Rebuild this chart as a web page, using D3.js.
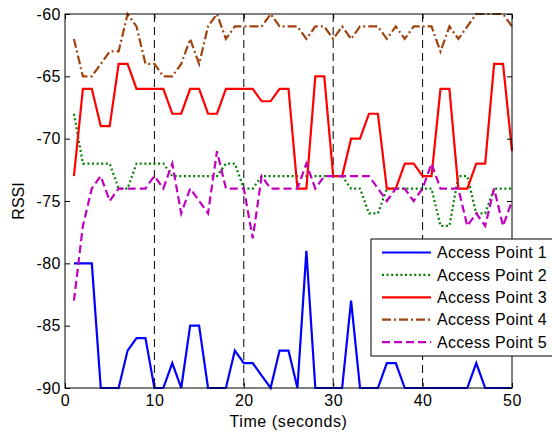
<!DOCTYPE html>
<html>
<head>
<meta charset="utf-8">
<script src="https://cdn.jsdelivr.net/npm/d3@7"></script>
<style>
  body { margin: 0; background: #fff; }
  #chart { width: 552px; height: 432px; }
  text { font-family: "Liberation Sans", Arial, sans-serif; fill: #000; }
</style>
</head>
<body>
<div id="chart"></div>
<script>
// Data
const times = d3.range(1, 51);
const ap1 = [-80,-80,-80,-90,-90,-90,-87,-86,-86,-90,-90,-88,-90,-85,-85,-90,-90,-90,-87,-88,-88,-89,-90,-87,-87,-90,-79,-90,-90,-90,-90,-83,-90,-90,-90,-88,-88,-90,-90,-90,-90,-90,-90,-90,-90,-88,-90,-90,-90,-90];
const ap2 = [-68,-72,-72,-72,-72,-74,-74,-72,-72,-72,-72,-73,-73,-73,-73,-73,-73,-72,-72,-74,-74,-73,-73,-73,-73,-73,-73,-73,-73,-73,-73,-74,-74,-76,-76,-74,-74,-74,-74,-74,-74,-77,-77,-73,-73,-76,-76,-74,-74,-74];
const ap3 = [-73,-66,-66,-69,-69,-64,-64,-66,-66,-66,-66,-68,-68,-66,-66,-68,-68,-66,-66,-66,-66,-67,-67,-66,-66,-74,-74,-65,-65,-73,-73,-70,-70,-68,-68,-74,-74,-72,-72,-73,-73,-66,-66,-74,-74,-72,-72,-64,-64,-71];
const ap4 = [-62,-65,-65,-64,-63,-63,-60,-61,-64,-64,-65,-65,-64,-62,-64,-61,-60,-62,-61,-61,-61,-61,-60,-61,-61,-61,-62,-61,-61,-62,-61,-62,-61,-61,-61,-62,-61,-62,-61,-61,-61,-63,-61,-62,-61,-60,-60,-60,-60,-61];
const ap5 = [-83,-77,-74,-73,-75,-74,-74,-74,-74,-73,-74,-72,-76,-74,-75,-76,-71,-74,-74,-74,-78,-73,-74,-74,-74,-74,-72,-74,-73,-73,-73,-73,-73,-73,-74,-75,-74,-74,-75,-74,-72,-74,-74,-74,-77,-76,-77,-74,-77,-75];
const seriesNames = ['Access Point 1', 'Access Point 2', 'Access Point 3', 'Access Point 4', 'Access Point 5'];
const markerTimes = [10, 20, 30, 40];
const xTicks = [0, 10, 20, 30, 40, 50];
const yTicks = [-90, -85, -80, -75, -70, -65, -60];

// Line styles per series
const styles = [
  { color: '#0000ff', dash: null },
  { color: '#008000', dash: '2,2.6' },
  { color: '#ff0000', dash: null },
  { color: '#a0440f', dash: '9,3,2,3' },
  { color: '#bf00bf', dash: '8,4' }
];

function renderChart() {
  const container = d3.select('#chart');
  container.selectAll('*').remove();

  const margin = { top: 14, right: 40, bottom: 44, left: 65 };
  const width = 552 - margin.left - margin.right;   // 447
  const height = 432 - margin.top - margin.bottom;  // 374

  const svg = container.append('svg')
    .attr('width', 552)
    .attr('height', 432);

  const g = svg.append('g')
    .attr('transform', `translate(${margin.left},${margin.top})`);

  const x = d3.scaleLinear().domain([0, 50]).range([0, width]);
  const y = d3.scaleLinear().domain([-90, -60]).range([height, 0]);

  // vertical dashed markers
  g.selectAll('.marker')
    .data(markerTimes)
    .enter()
    .append('line')
    .attr('x1', d => x(d)).attr('x2', d => x(d))
    .attr('y1', 0).attr('y2', height)
    .attr('stroke', '#000')
    .attr('stroke-width', 1)
    .attr('stroke-dasharray', '8,5');

  // series lines
  const allSeries = [ap1, ap2, ap3, ap4, ap5];
  const line = d3.line()
    .x((d, i) => x(times[i]))
    .y(d => y(d));

  allSeries.forEach((vals, k) => {
    g.append('path')
      .datum(vals)
      .attr('d', line)
      .attr('fill', 'none')
      .attr('stroke', styles[k].color)
      .attr('stroke-width', 2.2)
      .attr('stroke-linejoin', 'miter')
      .attr('stroke-dasharray', styles[k].dash);
  });

  // axes (ticks pointing inward)
  const fmt = d => String(d);
  const axB = g.append('g').attr('transform', `translate(0,${height})`)
    .call(d3.axisBottom(x).tickValues(xTicks).tickSize(-5).tickPadding(7).tickFormat(fmt));
  const axT = g.append('g')
    .call(d3.axisTop(x).tickValues(xTicks).tickSize(-5).tickFormat(''));
  const axL = g.append('g')
    .call(d3.axisLeft(y).tickValues(yTicks).tickSize(-5).tickPadding(4).tickFormat(fmt));
  const axR = g.append('g').attr('transform', `translate(${width},0)`)
    .call(d3.axisRight(y).tickValues(yTicks).tickSize(-5).tickFormat(''));

  [axB, axT, axL, axR].forEach(a => {
    a.select('.domain').remove();
    a.selectAll('line').attr('stroke', '#000');
    a.selectAll('text').style('font-size', '16px').attr('fill', '#000')
      .style('letter-spacing', '0.5px')
      .style('font-family', '"Liberation Sans", Arial, sans-serif');
  });

  // plot box
  g.append('rect')
    .attr('width', width).attr('height', height)
    .attr('fill', 'none').attr('stroke', '#000').attr('stroke-width', 1);

  // axis titles
  g.append('text')
    .attr('x', width / 2).attr('y', height + 39)
    .attr('text-anchor', 'middle')
    .style('font-size', '16px')
    .style('letter-spacing', '0.6px')
    .text('Time (seconds)');

  g.append('text')
    .attr('transform', `translate(${18 - margin.left},${height / 2}) rotate(-90)`)
    .attr('text-anchor', 'middle')
    .attr('dy', '0.35em')
    .style('font-size', '16px')
    .text('RSSI');

  // legend
  const legend = svg.append('g').attr('transform', 'translate(371,239)');
  legend.append('rect')
    .attr('width', 200).attr('height', 117)
    .attr('fill', '#fff').attr('stroke', '#000').attr('stroke-width', 1);

  const rows = legend.selectAll('.row')
    .data(seriesNames)
    .enter()
    .append('g')
    .attr('transform', (d, i) => `translate(0,${13.5 + i * 22.4})`);

  rows.append('line')
    .attr('x1', 11).attr('x2', 60)
    .attr('stroke', (d, i) => styles[i].color)
    .attr('stroke-width', 2.2)
    .attr('stroke-dasharray', (d, i) => styles[i].dash);

  rows.append('text')
    .attr('x', 66).attr('dy', '0.35em')
    .style('font-size', '16px')
    .style('letter-spacing', '0.3px')
    .text(d => d);
}

renderChart();
</script>
</body>
</html>
